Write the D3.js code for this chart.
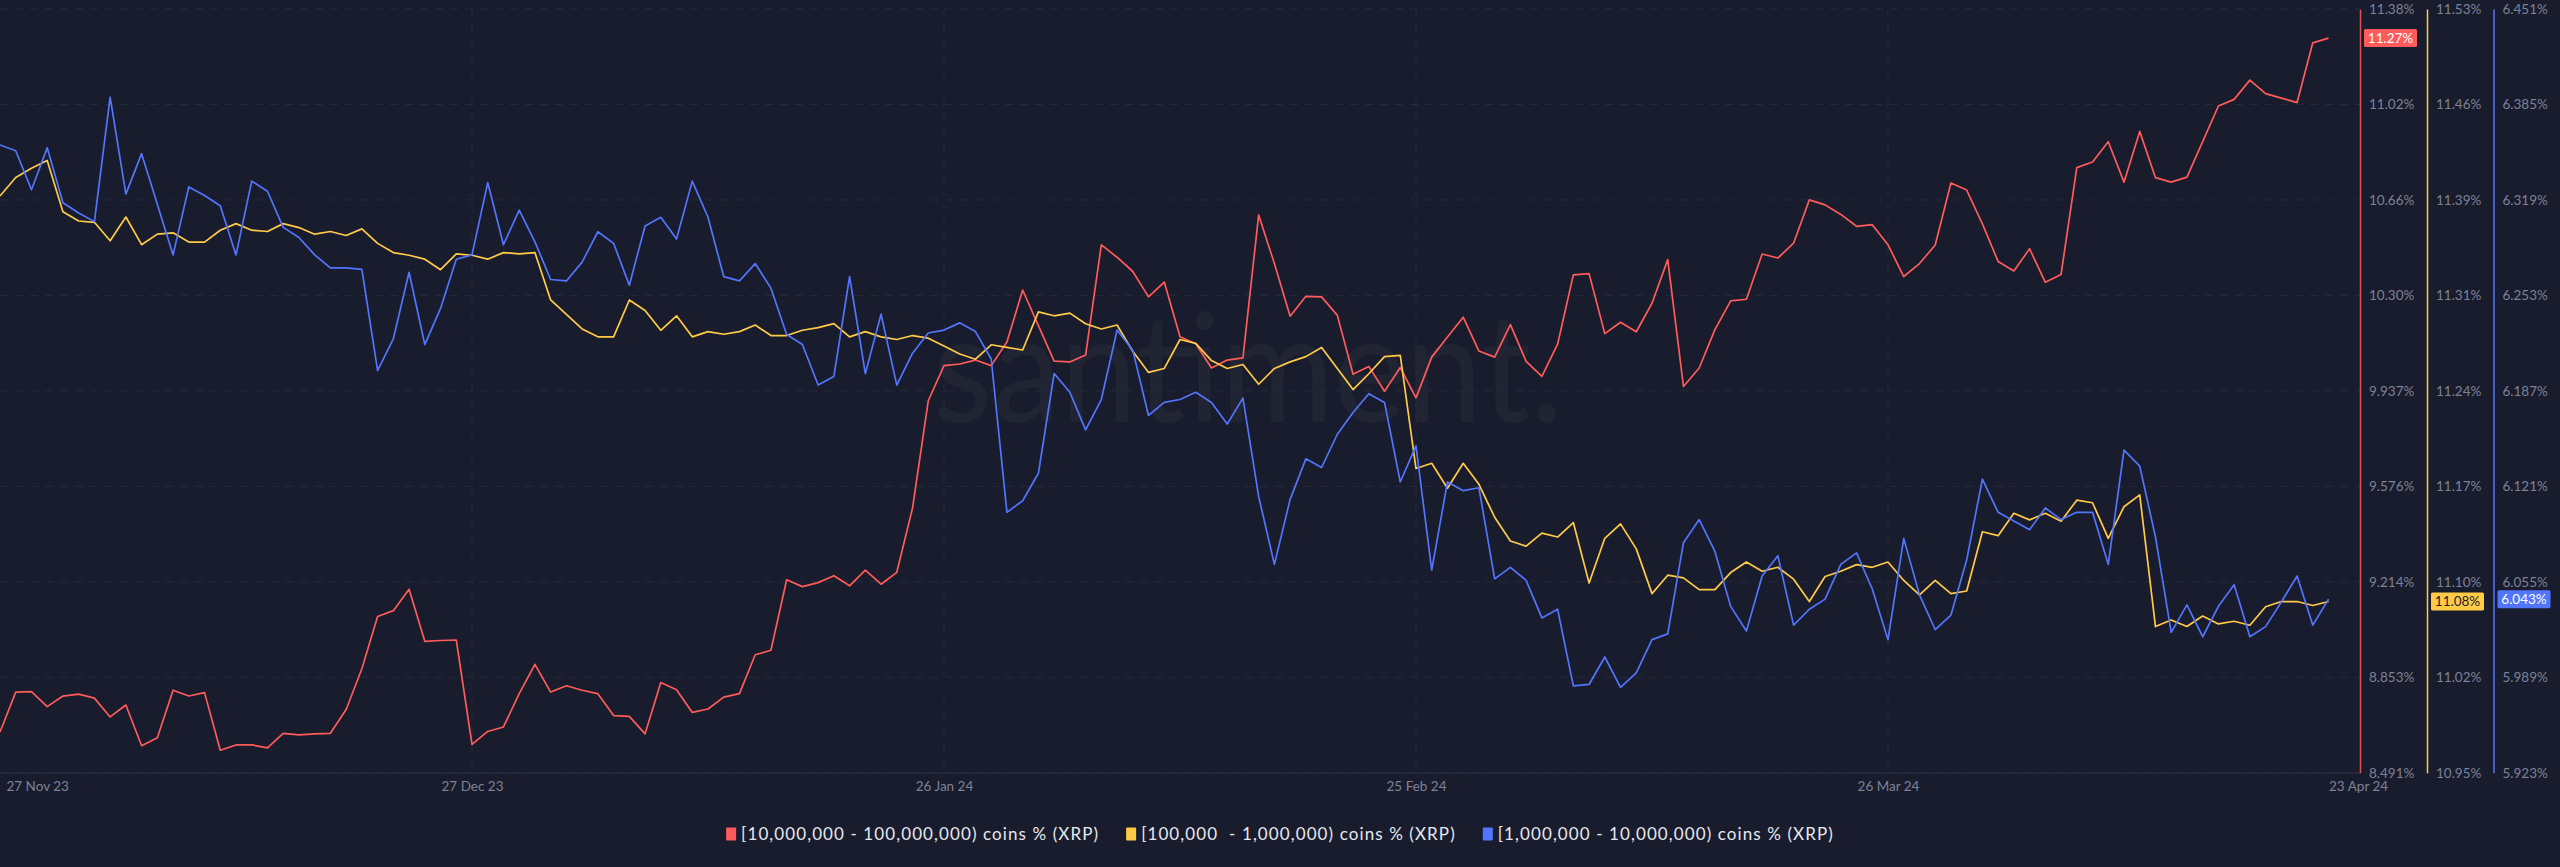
<!DOCTYPE html>
<html><head><meta charset="utf-8">
<script src="https://cdn.jsdelivr.net/npm/d3@7"></script>
<style>
html,body{margin:0;padding:0;background:#191c2c;}
svg{display:block;}
text{font-family:Lato,"Open Sans",sans-serif;}
</style></head>
<body>
<svg id="chart" width="2560" height="867"></svg>
<script>
// ---------- DATA ----------
const startDate = "2023-11-27";
const dayCount = 149;           // daily points 27 Nov 23 .. 23 Apr 24
const domainEnd = "2024-04-25";

const tickDates  = ["2023-11-27","2023-12-27","2024-01-26","2024-02-25","2024-03-26","2024-04-23"];
const tickLabels = ["27 Nov 23","27 Dec 23","26 Jan 24","25 Feb 24","26 Mar 24","23 Apr 24"];

const seriesNames = [
  "[10,000,000 - 100,000,000) coins % (XRP)",
  "[100,000  - 1,000,000) coins % (XRP)",
  "[1,000,000 - 10,000,000) coins % (XRP)"
];
const seriesColors = ["#ff5b5b","#ffcb47","#5275ff"];

const redValues = [
 8.645, 8.796, 8.798, 8.741, 8.781, 8.788, 8.773, 8.702, 8.747, 8.593,
 8.623, 8.803, 8.781, 8.794, 8.576, 8.596, 8.596, 8.585, 8.640, 8.634,
 8.638, 8.640, 8.730, 8.884, 9.082, 9.104, 9.185, 8.988, 8.991, 8.993,
 8.598, 8.647, 8.664, 8.790, 8.901, 8.796, 8.820, 8.803, 8.790, 8.707,
 8.704, 8.638, 8.832, 8.805, 8.719, 8.732, 8.777, 8.790, 8.937, 8.954,
 9.221, 9.195, 9.210, 9.236, 9.198, 9.257, 9.204, 9.249, 9.492, 9.898,
 10.031, 10.037, 10.052, 10.031, 10.120, 10.317, 10.182, 10.048, 10.045, 10.071,
 10.488, 10.441, 10.387, 10.291, 10.347, 10.140, 10.114, 10.022, 10.052, 10.060,
 10.601, 10.417, 10.218, 10.293, 10.291, 10.221, 9.998, 10.028, 9.934, 10.024,
 9.909, 10.063, 10.139, 10.214, 10.086, 10.063, 10.186, 10.047, 9.990, 10.112,
 10.374, 10.379, 10.152, 10.195, 10.159, 10.267, 10.432, 9.952, 10.022, 10.167,
 10.276, 10.282, 10.453, 10.438, 10.494, 10.658, 10.639, 10.603, 10.558, 10.564,
 10.488, 10.368, 10.417, 10.487, 10.722, 10.695, 10.567, 10.425, 10.389, 10.473,
 10.346, 10.376, 10.780, 10.801, 10.878, 10.725, 10.917, 10.742, 10.725, 10.744,
 10.878, 11.013, 11.038, 11.111, 11.060, 11.043, 11.026, 11.252, 11.270
];
const yellowValues = [
 11.388, 11.402, 11.409, 11.415, 11.376, 11.369, 11.368, 11.354, 11.372, 11.351,
 11.359, 11.360, 11.353, 11.353, 11.362, 11.367, 11.362, 11.361, 11.367, 11.364,
 11.359, 11.361, 11.358, 11.363, 11.352, 11.345, 11.343, 11.340, 11.332, 11.344,
 11.343, 11.340, 11.345, 11.344, 11.345, 11.309, 11.298, 11.287, 11.281, 11.281,
 11.309, 11.301, 11.286, 11.297, 11.281, 11.285, 11.283, 11.285, 11.290, 11.282,
 11.282, 11.286, 11.288, 11.291, 11.281, 11.285, 11.281, 11.279, 11.282, 11.280,
 11.274, 11.268, 11.264, 11.275, 11.273, 11.271, 11.300, 11.297, 11.299, 11.291,
 11.287, 11.290, 11.270, 11.254, 11.257, 11.279, 11.276, 11.263, 11.257, 11.260,
 11.245, 11.257, 11.262, 11.266, 11.273, 11.257, 11.241, 11.253, 11.266, 11.267,
 11.181, 11.185, 11.166, 11.185, 11.169, 11.144, 11.126, 11.122, 11.132, 11.129,
 11.140, 11.094, 11.128, 11.139, 11.120, 11.086, 11.100, 11.098, 11.089, 11.089,
 11.102, 11.110, 11.103, 11.106, 11.097, 11.080, 11.099, 11.103, 11.108, 11.106,
 11.110, 11.096, 11.085, 11.096, 11.086, 11.088, 11.133, 11.130, 11.147, 11.142,
 11.147, 11.141, 11.157, 11.155, 11.128, 11.152, 11.161, 11.061, 11.066, 11.061,
 11.069, 11.063, 11.065, 11.062, 11.076, 11.080, 11.080, 11.077, 11.080
];
const blueValues = [
 6.357, 6.353, 6.326, 6.355, 6.317, 6.310, 6.304, 6.390, 6.323, 6.351,
 6.316, 6.281, 6.328, 6.322, 6.315, 6.281, 6.332, 6.325, 6.300, 6.293,
 6.281, 6.272, 6.272, 6.271, 6.201, 6.223, 6.269, 6.219, 6.244, 6.278,
 6.281, 6.331, 6.288, 6.312, 6.290, 6.264, 6.263, 6.276, 6.297, 6.289,
 6.260, 6.301, 6.307, 6.292, 6.332, 6.307, 6.266, 6.263, 6.275, 6.258,
 6.226, 6.219, 6.191, 6.197, 6.266, 6.199, 6.240, 6.191, 6.213, 6.227,
 6.229, 6.234, 6.228, 6.209, 6.103, 6.111, 6.130, 6.199, 6.186, 6.160,
 6.181, 6.229, 6.215, 6.170, 6.179, 6.181, 6.186, 6.179, 6.164, 6.182,
 6.114, 6.067, 6.112, 6.140, 6.134, 6.157, 6.172, 6.185, 6.179, 6.124,
 6.149, 6.063, 6.124, 6.118, 6.120, 6.057, 6.065, 6.056, 6.030, 6.036,
 5.983, 5.984, 6.003, 5.982, 5.992, 6.015, 6.019, 6.082, 6.098, 6.076,
 6.038, 6.021, 6.059, 6.073, 6.025, 6.036, 6.043, 6.067, 6.075, 6.050,
 6.015, 6.085, 6.046, 6.022, 6.032, 6.070, 6.126, 6.103, 6.097, 6.091,
 6.106, 6.098, 6.103, 6.103, 6.067, 6.146, 6.135, 6.086, 6.020, 6.039,
 6.017, 6.038, 6.053, 6.017, 6.024, 6.041, 6.059, 6.025, 6.043
];

const redDomain = [8.491, 11.38];
const yellowDomain = [10.95, 11.53];
const blueDomain = [5.923, 6.451];
const redTickLabels    = ["8.491%","8.853%","9.214%","9.576%","9.937%","10.30%","10.66%","11.02%","11.38%"];
const yellowTickLabels = ["10.95%","11.02%","11.10%","11.17%","11.24%","11.31%","11.39%","11.46%","11.53%"];
const blueTickLabels   = ["5.923%","5.989%","6.055%","6.121%","6.187%","6.253%","6.319%","6.385%","6.451%"];
const lastLabels = ["11.27%","11.08%","6.043%"];

// ---------- LAYOUT ----------
const W = 2560, H = 867;
const plotL = 0, plotR = 2360, plotT = 9, plotB = 772.7;
const axisX = [2360, 2427, 2493.5];
const gridColor = "#262a3d";
const textColor = "#7d8298";

const svg = d3.select("#chart");
svg.append("rect").attr("width",W).attr("height",H).attr("fill","#191c2c");

const parse = d3.utcParse("%Y-%m-%d");
const dates = d3.utcDay.range(parse(startDate), d3.utcDay.offset(parse(startDate), dayCount));
const x = d3.scaleUtc().domain([parse(startDate), parse(domainEnd)]).range([plotL, plotR]);

const yRed = d3.scaleLinear().domain(redDomain).range([plotB, plotT]);
const yYellow = d3.scaleLinear().domain(yellowDomain).range([plotB, plotT]);
const yBlue = d3.scaleLinear().domain(blueDomain).range([plotB, plotT]);

const tickVals = (dom) => d3.range(9).map(i => dom[0] + i*(dom[1]-dom[0])/8);

// watermark
svg.append("text")
  .attr("x", 1248).attr("y", 422)
  .attr("text-anchor","middle")
  .attr("font-size", 152)
  .attr("textLength", 630).attr("lengthAdjust","spacingAndGlyphs")
  .attr("fill", "#ffffff").attr("fill-opacity", 0.035)
  .style("font-family","Lato, sans-serif")
  .text("santiment.");

// horizontal grid
const grid = svg.append("g");
grid.selectAll("line.h").data(tickVals(redDomain)).join("line")
  .attr("x1", plotL).attr("x2", plotR)
  .attr("y1", d => yRed(d)).attr("y2", d => yRed(d))
  .attr("stroke", gridColor).attr("stroke-width",1).attr("stroke-dasharray","8,7");
// vertical grid
grid.selectAll("line.v").data(tickDates.slice(1,5)).join("line")
  .attr("x1", d => x(parse(d))).attr("x2", d => x(parse(d)))
  .attr("y1", plotT).attr("y2", plotB)
  .attr("stroke", gridColor).attr("stroke-width",1).attr("stroke-dasharray","8,7");

// x axis
const xAxis = d3.axisBottom(x)
  .tickValues(tickDates.map(parse))
  .tickFormat((d,i) => tickLabels[i])
  .tickSize(0).tickPadding(9);
const gx = svg.append("g").attr("transform",`translate(0,${plotB})`).call(xAxis);
gx.select(".domain").attr("stroke", gridColor).attr("stroke-width",1.5);
gx.selectAll("text").attr("fill", textColor).attr("font-size", 13.5)
  .style("font-family","Lato, sans-serif")
  .attr("text-anchor", (d,i) => i===0 || i===tickDates.length-1 ? "start" : "middle")
  .attr("dx", (d,i) => i===0 ? 6 : 0);

// lines
const series = [
  {vals: redValues, y: yRed},
  {vals: yellowValues, y: yYellow},
  {vals: blueValues, y: yBlue}
];
series.forEach((s, k) => {
  const line = d3.line().x((d,i) => x(dates[i])).y(d => s.y(d));
  svg.append("path").datum(s.vals)
    .attr("d", line).attr("fill","none")
    .attr("stroke", seriesColors[k]).attr("stroke-width", 1.7)
    .attr("stroke-linejoin","round");
});

// right axes
const axisDefs = [
  {y: yRed, dom: redDomain, labels: redTickLabels},
  {y: yYellow, dom: yellowDomain, labels: yellowTickLabels},
  {y: yBlue, dom: blueDomain, labels: blueTickLabels}
];
axisDefs.forEach((a, k) => {
  const ax = d3.axisRight(a.y).tickValues(tickVals(a.dom))
    .tickFormat((d,i) => a.labels[i]).tickSize(0).tickPadding(9);
  const g = svg.append("g").attr("transform",`translate(${axisX[k]},0)`).call(ax);
  g.select(".domain").attr("stroke", seriesColors[k]).attr("stroke-width",1.5)
    .attr("stroke-opacity", k===0 ? 0.85 : 1);
  g.selectAll("text").attr("fill", textColor).attr("font-size", 13.5)
    .style("font-family","Lato, sans-serif");
  // last value badge
  const lastVal = series[k].vals[series[k].vals.length-1];
  const yy = a.y(lastVal);
  const b = svg.append("g").attr("transform",`translate(${axisX[k]+4},${yy})`);
  b.append("rect").attr("x",0).attr("y",-9).attr("width",53).attr("height",18)
    .attr("rx",1.5).attr("fill", seriesColors[k]);
  b.append("text").attr("x",26.5).attr("y",0).attr("dy","0.35em")
    .attr("text-anchor","middle").attr("font-size",13.5)
    .attr("fill", k===1 ? "#1b1e2e" : "#ffffff")
    .style("font-family","Lato, sans-serif")
    .text(lastLabels[k]);
});

// legend
const legend = svg.append("g").attr("transform","translate(0,834)");
const items = seriesNames.map((name,k) => {
  const g = legend.append("g");
  g.append("rect").attr("x",0).attr("y",-6.5).attr("width",10).attr("height",13)
    .attr("rx",1).attr("fill", seriesColors[k]);
  const t = g.append("text").attr("x",15).attr("y",0).attr("dy","0.35em")
    .attr("font-size",17).attr("fill","#e6e8f0")
    .attr("letter-spacing", 1.1)
    .style("font-family","Lato, sans-serif")
    .style("white-space","pre")
    .attr("xml:space","preserve")
    .text(name);
  return {g, w: 15 + t.node().getComputedTextLength()};
});
const gap = 27;
const total = d3.sum(items, d => d.w) + gap*(items.length-1);
let cx = W/2 - total/2;
items.forEach(it => { it.g.attr("transform",`translate(${cx},0)`); cx += it.w + gap; });
</script>
</body></html>
